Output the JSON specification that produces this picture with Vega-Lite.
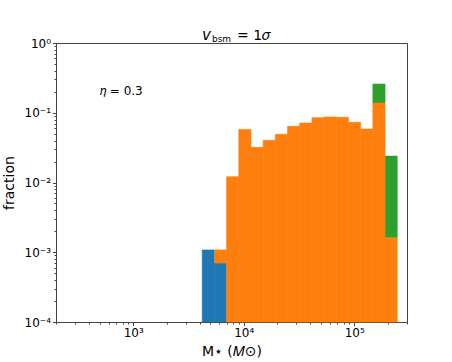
{
  "$schema": "https://vega.github.io/schema/vega-lite/v6.json",
  "width": 351,
  "height": 279,
  "autosize": "none",
  "padding": {"left": 56, "top": 43, "right": 45, "bottom": 40},
  "background": "white",
  "config": {
    "font": "DejaVu Sans",
    "view": {"stroke": "#444", "strokeWidth": 1},
    "axis": {"grid": false}
  },
  "datasets": {
    "bars": [
      {"series": "green", "m0": 147270, "m1": 189840, "lo": 0.138, "hi": 0.258},
      {"series": "green", "m0": 189840, "m1": 244720, "lo": 0.00161, "hi": 0.0239},
      {"series": "blue", "m0": 4207, "m1": 5425, "lo": 0.0001, "hi": 0.00108},
      {"series": "blue", "m0": 5425, "m1": 6993, "lo": 0.0001, "hi": 0.0007},
      {"series": "orange", "m0": 5425, "m1": 6993, "lo": 0.0007, "hi": 0.00108},
      {"series": "orange", "m0": 6993, "m1": 9016, "lo": 0.0001, "hi": 0.0121},
      {"series": "orange", "m0": 9016, "m1": 11623, "lo": 0.0001, "hi": 0.0577},
      {"series": "orange", "m0": 11623, "m1": 14983, "lo": 0.0001, "hi": 0.0319},
      {"series": "orange", "m0": 14983, "m1": 19314, "lo": 0.0001, "hi": 0.0402},
      {"series": "orange", "m0": 19314, "m1": 24896, "lo": 0.0001, "hi": 0.049},
      {"series": "orange", "m0": 24896, "m1": 32093, "lo": 0.0001, "hi": 0.0638},
      {"series": "orange", "m0": 32093, "m1": 41370, "lo": 0.0001, "hi": 0.0711},
      {"series": "orange", "m0": 41370, "m1": 53330, "lo": 0.0001, "hi": 0.0849},
      {"series": "orange", "m0": 53330, "m1": 68747, "lo": 0.0001, "hi": 0.0868},
      {"series": "orange", "m0": 68747, "m1": 88620, "lo": 0.0001, "hi": 0.086},
      {"series": "orange", "m0": 88620, "m1": 114240, "lo": 0.0001, "hi": 0.0728},
      {"series": "orange", "m0": 114240, "m1": 147270, "lo": 0.0001, "hi": 0.0584},
      {"series": "orange", "m0": 147270, "m1": 189840, "lo": 0.0001, "hi": 0.138},
      {"series": "orange", "m0": 189840, "m1": 244720, "lo": 0.0001, "hi": 0.00161}
    ],
    "one": [{}]
  },
  "layer": [
    {
      "data": {"name": "bars"},
      "mark": {"type": "bar", "opacity": 1, "strokeWidth": 0.6},
      "encoding": {
        "x": {
          "field": "m0", "type": "quantitative",
          "scale": {"type": "log", "domain": [200, 300000], "nice": false},
          "axis": {
            "title": "M⋆ (𝑀⊙)",
            "titleFontSize": 14, "titleFontWeight": "normal", "titleColor": "black", "titlePadding": 6,
            "values": [200,300,400,500,600,700,800,900,1000,2000,3000,4000,5000,6000,7000,8000,9000,10000,20000,30000,40000,50000,60000,70000,80000,90000,100000,200000,300000],
            "labelExpr": "abs(log(datum.value)/LN10 - round(log(datum.value)/LN10)) < 1e-6 ? '10' + ['⁰','¹','²','³','⁴','⁵'][round(log(datum.value)/LN10)] : ''",
            "labelFontSize": 12, "labelColor": "black", "labelOverlap": false, "labelFlush": false, "labelPadding": 2,
            "tickColor": "#444",
            "tickSize": {"condition": {"test": "abs(log(datum.value)/LN10 - round(log(datum.value)/LN10)) < 1e-6", "value": 3.5}, "value": 2},
            "domainColor": "#444"
          }
        },
        "x2": {"field": "m1"},
        "y": {
          "field": "hi", "type": "quantitative",
          "scale": {"type": "log", "domain": [0.0001, 1], "nice": false},
          "axis": {
            "title": "fraction",
            "titleFontSize": 14, "titleFontWeight": "normal", "titleColor": "black", "titlePadding": 8,
            "values": [0.0001,0.0002,0.0003,0.0004,0.0005,0.0006,0.0007,0.0008,0.0009,0.001,0.002,0.003,0.004,0.005,0.006,0.007,0.008,0.009,0.01,0.02,0.03,0.04,0.05,0.06,0.07,0.08,0.09,0.1,0.2,0.3,0.4,0.5,0.6,0.7,0.8,0.9,1],
            "labelExpr": "abs(log(datum.value)/LN10 - round(log(datum.value)/LN10)) < 1e-6 ? '10' + (round(log(datum.value)/LN10) < 0 ? '⁻' : '') + ['⁰','¹','²','³','⁴'][abs(round(log(datum.value)/LN10))] : ''",
            "labelFontSize": 12, "labelColor": "black", "labelOverlap": false, "labelFlush": false, "labelPadding": 2,
            "tickColor": "#444",
            "tickSize": {"condition": {"test": "abs(log(datum.value)/LN10 - round(log(datum.value)/LN10)) < 1e-6", "value": 3.5}, "value": 2},
            "domainColor": "#444"
          }
        },
        "y2": {"field": "lo"},
        "color": {
          "field": "series", "type": "nominal",
          "scale": {"domain": ["blue", "orange", "green"], "range": ["#1f77b4", "#ff7f0e", "#2ca02c"]},
          "legend": null
        },
        "stroke": {
          "field": "series", "type": "nominal",
          "scale": {"domain": ["blue", "orange", "green"], "range": ["#1f77b4", "#ff7f0e", "#2ca02c"]},
          "legend": null
        }
      }
    },
    {
      "data": {"name": "one"},
      "mark": {"type": "text", "align": "left", "baseline": "middle", "fontSize": 12, "font": "DejaVu Sans", "color": "black"},
      "encoding": {
        "x": {"datum": 500},
        "y": {"datum": 0.205},
        "text": {"value": "𝜂 = 0.3"}
      }
    },
    {
      "data": {"name": "one"},
      "mark": {"type": "text", "align": "right", "baseline": "alphabetic", "fontSize": 15, "fontStyle": "italic", "font": "DejaVu Sans", "color": "black"},
      "encoding": {
        "x": {"datum": 5050},
        "y": {"datum": 1.1},
        "text": {"value": "v"}
      }
    },
    {
      "data": {"name": "one"},
      "mark": {"type": "text", "align": "left", "baseline": "alphabetic", "fontSize": 9, "font": "DejaVu Sans", "color": "black", "dx": 1, "dy": 2},
      "encoding": {
        "x": {"datum": 5050},
        "y": {"datum": 1.1},
        "text": {"value": "bsm"}
      }
    },
    {
      "data": {"name": "one"},
      "mark": {"type": "text", "align": "left", "baseline": "alphabetic", "fontSize": 14, "font": "DejaVu Sans", "color": "black"},
      "encoding": {
        "x": {"datum": 8700},
        "y": {"datum": 1.1},
        "text": {"value": "= 1𝜎"}
      }
    }
  ]
}
